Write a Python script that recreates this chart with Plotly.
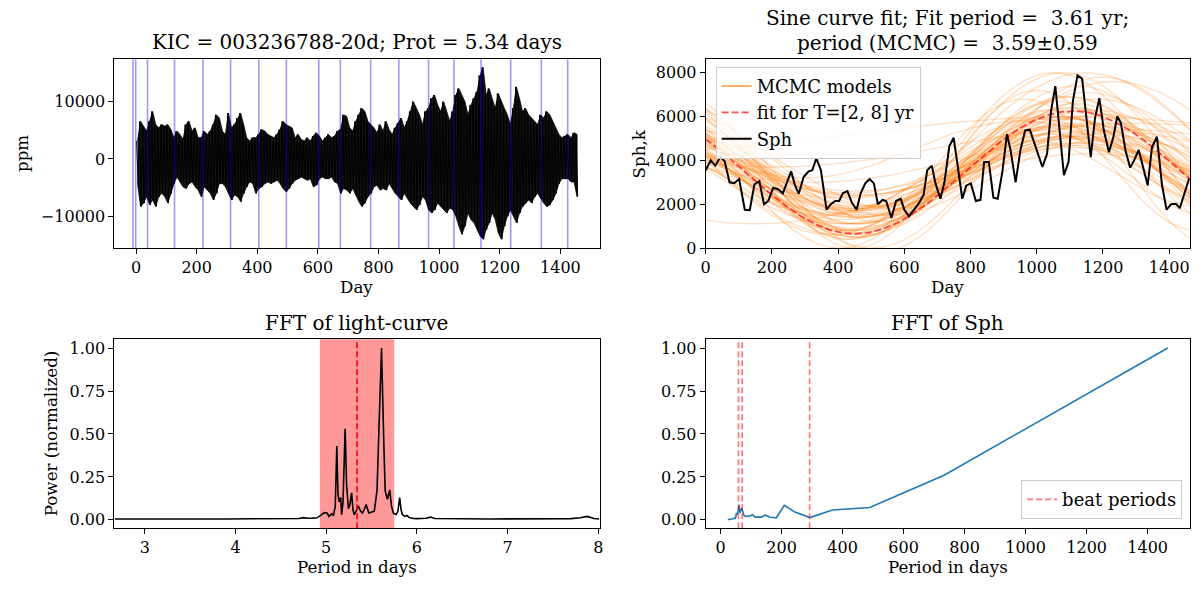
import numpy as np
import plotly.graph_objects as go

# ---------------- data ----------------
# Light curve envelope (10-day bins starting at day 0): upper / lower ppm
lc_bin_width = 10
lc_hi = [3140, 6570, 5700, 4860, 6570, 8290, 6000, 5430, 6000, 5710,
         6000, 5140, 3710, 4860, 4290, 3430, 6000, 6570, 4860, 5430,
         3710, 3710, 4860, 4290, 4860, 6000, 7700, 7140, 4860, 4290,
         8000, 5430, 6000, 7140, 8000, 6000, 3710, 3140, 3710, 3710,
         4290, 5140, 4860, 4290, 4000, 3710, 4290, 5140, 6570, 6000,
         5710, 5430, 3710, 4290, 3430, 3140, 3710, 3140, 4000, 4570,
         4000, 3140, 3710, 4290, 3710, 4000, 4860, 5140, 7700, 7430,
         5430, 4860, 6570, 7700, 8860, 8290, 6570, 6000, 5430, 4570,
         6000, 4860, 6570, 5140, 4290, 5430, 6290, 7140, 5430, 6570,
         8290, 10000, 8860, 7700, 6000, 8290, 8860, 10570, 11140, 9430,
         8290, 10000, 8290, 6570, 8290, 11140, 12290, 11140, 10000, 7700,
         9430, 10570, 11710, 14570, 16000, 11140, 12290, 10570, 8860, 11430,
         10000, 8860, 7700, 6000, 8860, 12570, 10570, 8290, 8860, 7700,
         7140, 6570, 6000, 7700, 7140, 8290, 7700, 6570, 5430, 4290,
         3710, 4000, 4290, 3710, 4570, 4290]
lc_lo = [-4290, -8290, -7700, -6570, -8000, -7140, -8290, -6570, -6000, -6570,
         -7700, -6000, -4290, -3140, -4000, -4860, -5140, -4290, -4000, -4860,
         -5430, -6570, -4860, -5430, -6000, -7140, -6000, -4290, -4290, -4860,
         -6000, -7140, -6290, -6570, -7430, -6000, -4860, -4000, -4290, -6000,
         -5140, -4860, -4290, -4000, -4290, -4000, -3710, -4290, -5140, -5710,
         -5140, -4290, -3710, -3430, -3140, -3430, -3710, -3430, -4860, -4570,
         -3430, -3140, -3430, -3430, -3140, -4000, -4290, -6000, -5140, -5430,
         -6000, -5140, -6290, -7430, -8290, -7700, -6570, -6000, -4860, -4570,
         -5430, -5140, -5430, -4290, -5140, -6000, -6570, -7140, -6000, -6860,
         -7700, -8290, -8860, -8000, -6570, -7140, -8860, -9430, -8860, -7700,
         -8290, -8860, -9430, -8570, -8860, -10000, -11710, -13140, -11710, -9430,
         -10570, -11140, -12290, -13430, -14000, -12290, -11140, -9430, -10570, -12860,
         -14000, -11710, -10000, -8860, -10000, -11140, -9430, -8290, -7700, -7140,
         -7700, -6570, -6000, -6860, -7700, -8290, -8000, -7140, -6000, -4290,
         -3430, -3430, -3430, -4000, -4000, -6570]
quarter_days = [-10, -1, 38, 127, 221, 312, 405, 496, 603, 674, 774, 867,
                965, 1049, 1138, 1236, 1337, 1424]

# Sph time series
sph_day = [0, 15, 29, 44, 57, 72, 86, 101, 118, 133, 147, 162, 176, 189, 204,
           219, 233, 247, 258, 270, 281, 296, 311, 322, 334, 348, 365, 378,
           391, 403, 414, 428, 442, 456, 468, 482, 495, 508, 520, 534, 545,
           561, 575, 589, 600, 614, 629, 644, 658, 669, 683, 694, 709, 721,
           736, 749, 761, 775, 787, 801, 816, 830, 841, 855, 869, 882, 896,
           910, 921, 936, 951, 965, 979, 993, 1004, 1017, 1031, 1043, 1056,
           1068, 1082, 1096, 1109, 1123, 1137, 1151, 1163, 1176, 1189, 1203,
           1218, 1231, 1243, 1254, 1268, 1282, 1294, 1308, 1321, 1335, 1348,
           1363, 1378, 1392, 1406, 1420, 1432, 1446, 1460]
sph_val = [3550, 4000, 3760, 4150, 3970, 3000, 2960, 3150, 1750, 1730, 2900,
           3050, 2000, 2150, 2750, 2680, 2500, 3100, 3500, 2850, 2480, 3250,
           3500, 3550, 4100, 3550, 1750, 2000, 2150, 2150, 2500, 2600, 2050,
           1750, 2500, 2950, 3150, 2950, 2000, 2200, 2150, 1370, 2150, 2250,
           1750, 1450, 1750, 2050, 2420, 3550, 3760, 2950, 2250, 3000, 4650,
           5030, 3760, 2250, 2850, 2950, 2150, 2200, 3930, 3930, 2300, 2250,
           3480, 5200, 4450, 3000, 4500, 5370, 5400, 4740, 4300, 3700, 4300,
           6240, 7390, 5570, 3330, 3930, 6690, 7880, 7730, 5790, 4150, 5940,
           6840, 5340, 4370, 5040, 6010, 5710, 4450, 3670, 4000, 4480, 3700,
           2850, 4600, 5080, 2900, 1750, 2000, 2020, 1820, 2500, 3160]

# Sine fit (T=[2, 8] yr): period (days), amplitude, offset, day of maximum
fit_period, fit_amp, fit_offset, fit_tmax = 1318.5, 2800, 3450, 1110

# MCMC sine models: period (days), amplitude, offset, day of maximum
mc_period = [1300, 1250, 1350, 1200, 1400, 1280, 1320, 1150, 1450, 1260,
             1220, 1380, 1500, 1100, 1300, 1330, 1180, 1420, 1270, 1240,
             1600, 1050, 1350, 1290, 1200, 1700, 1460, 1320, 1240, 1380,
             1150, 1550, 1280, 1400, 2200, 1000, 1310, 1260, 1480, 1210,
             1340, 1900, 1180, 1360, 1230, 1270, 1440, 1120, 1300, 2600,
             1250, 1400, 1100, 1550, 1200, 1350, 1050, 1650, 2000, 1300]
mc_amp = [1600, 1800, 1500, 2000, 1700, 2400, 2800, 1900, 2100, 1400,
          2600, 2200, 3000, 1700, 3200, 1200, 2300, 1800, 2000, 1600,
          2500, 2000, 2700, 1900, 3100, 1500, 1300, 2300, 2500, 1600,
          2800, 2200, 1100, 3300, 1000, 1500, 2100, 2900, 2600, 1800,
          2000, 1200, 1400, 3500, 2200, 1700, 2400, 2400, 2600, 800,
          3800, 3900, 3600, 3700, 3400, 4000, 3000, 3500, 1600, 1300]
mc_offset = [3400, 3500, 3300, 3600, 3400, 3500, 3600, 3300, 3500, 3700,
             3400, 3300, 3800, 3500, 3700, 3600, 3800, 3200, 3900, 3100,
             3600, 3400, 3300, 3700, 3600, 3800, 3900, 4000, 3200, 4100,
             3500, 3500, 3500, 3800, 4700, 3400, 3000, 4000, 3700, 3600,
             3500, 4200, 3300, 3900, 3700, 3200, 4000, 3600, 3400, 5200,
             4200, 3900, 3600, 4300, 3200, 4000, 3800, 4100, 2700, 4500]
mc_tmax = [1100, 1080, 1120, 1060, 1150, 1100, 1110, 1040, 1170, 1090,
           1070, 1130, 1180, 1030, 1100, 1120, 1050, 1160, 1090, 1080,
           1200, 1010, 1140, 1100, 1060, 1250, 1180, 1110, 1080, 1130,
           1040, 1190, 1100, 1150, 1300, 990, 1100, 1090, 1170, 1170,
           1030, 1280, 1120, 1120, 1000, 1180, 1100, 1080, 1060, 1100,
           1050, 1200, 1000, 1150, 1120, 1080, 960, 1230, 1150, 950]

# FFT of light curve
fft_lc_period = [2.67, 3.0, 3.3, 3.6, 3.9, 4.2, 4.4, 4.6, 4.65, 4.7,
                 4.75, 4.8, 4.85, 4.9, 4.95, 4.98, 5.01, 5.03, 5.06, 5.08,
                 5.10, 5.117, 5.13, 5.143, 5.16, 5.17, 5.185, 5.209, 5.225, 5.245,
                 5.262, 5.28, 5.295, 5.31, 5.33, 5.355, 5.38, 5.40, 5.42, 5.44,
                 5.47, 5.50, 5.53, 5.56, 5.58, 5.61, 5.635, 5.65, 5.675, 5.70,
                 5.72, 5.74, 5.77, 5.79, 5.81, 5.825, 5.84, 5.87, 5.89, 5.92,
                 5.96, 6.0, 6.1, 6.15, 6.2, 6.3, 6.5, 6.8, 7.1, 7.4,
                 7.7, 7.8, 7.88, 7.95, 8.01]
fft_lc_power = [0.005, 0.004, 0.005, 0.006, 0.005, 0.006, 0.007, 0.008, 0.012, 0.008,
                0.013, 0.009, 0.010, 0.012, 0.030, 0.042, 0.040, 0.020, 0.035, 0.025,
                0.08, 0.43, 0.15, 0.105, 0.13, 0.03, 0.10, 0.53, 0.20, 0.065,
                0.09, 0.157, 0.06, 0.03, 0.05, 0.08, 0.05, 0.04, 0.06, 0.09,
                0.04, 0.045, 0.05, 0.17, 0.55, 1.0, 0.45, 0.17, 0.12, 0.174,
                0.08, 0.04, 0.03, 0.05, 0.13, 0.06, 0.03, 0.02, 0.025, 0.012,
                0.008, 0.007, 0.009, 0.016, 0.008, 0.006, 0.006, 0.005, 0.006, 0.005,
                0.007, 0.012, 0.02, 0.008, 0.005]
prot_days = 5.34
prot_band = [4.93, 5.75]

# FFT of Sph
fft_sph_period = [1466, 733, 489, 367, 293, 244, 209, 183, 163, 147, 133, 122,
                  113, 105, 98, 92, 86, 81, 77, 73, 70, 67, 64, 61, 59, 56, 54,
                  52, 50, 49, 47, 46, 44, 43, 42, 40, 38, 36, 34, 32, 30, 28,
                  26, 24]
fft_sph_power = [1.0, 0.26, 0.072, 0.057, 0.013, 0.045, 0.085, 0.012, 0.015,
                 0.027, 0.016, 0.015, 0.016, 0.03, 0.022, 0.02, 0.022, 0.02,
                 0.025, 0.06, 0.065, 0.06, 0.04, 0.085, 0.05, 0.035, 0.03, 0.04,
                 0.015, 0.01, 0.012, 0.008, 0.01, 0.008, 0.006, 0.006, 0.004,
                 0.005, 0.003, 0.004, 0.003, 0.003, 0.002, 0.001]
beat_periods = [59, 71, 292]

# tick labels
tl_xticks = [0, 200, 400, 600, 800, 1000, 1200, 1400]
tl_yticks = [-10000, 0, 10000]
tl_ytext = ["\u221210000", "0", "10000"]
tr_yticks = [0, 2000, 4000, 6000, 8000]
bl_xticks = [3, 4, 5, 6, 7, 8]
pw_yticks = [0.0, 0.25, 0.5, 0.75, 1.0]
pw_ytext = ["0.00", "0.25", "0.50", "0.75", "1.00"]

# ---------------- figure ----------------
W, H = 1202, 595
FONT = "DejaVu Serif"


def px(x):
    return x / W


def py(y):
    return 1 - y / H


fig = go.Figure()

# light curve: filled envelope, plus a zig-zag between the same extremes for texture
centers = [i * lc_bin_width + lc_bin_width / 2 for i in range(len(lc_hi))]
fig.add_trace(go.Scatter(x=centers + centers[::-1], y=lc_hi + lc_lo[::-1], mode="lines",
                         fill="toself", fillcolor="rgba(0,0,0,0.93)",
                         line=dict(color="black", width=0.8),
                         xaxis="x", yaxis="y", showlegend=False, hoverinfo="skip"))
zx, zy = [], []
for i, (h, l) in enumerate(zip(lc_hi, lc_lo)):
    d0 = i * lc_bin_width
    zx += [d0 + 2, d0 + 7]
    zy += [h, l]
fig.add_trace(go.Scatter(x=zx, y=zy, mode="lines", line=dict(color="black", width=1),
                         xaxis="x", yaxis="y", showlegend=False, hoverinfo="skip"))

# MCMC models
tgrid = np.linspace(0, 1463, 300)
for P, A, C, T in zip(mc_period, mc_amp, mc_offset, mc_tmax):
    fig.add_trace(go.Scatter(x=tgrid, y=C + A * np.cos(2 * np.pi * (tgrid - T) / P),
                             mode="lines", line=dict(color="rgba(255,127,14,0.26)", width=1.3),
                             xaxis="x2", yaxis="y2", showlegend=False, hoverinfo="skip"))
fig.add_trace(go.Scatter(x=[None], y=[None], mode="lines", name="MCMC models",
                         line=dict(color="rgba(255,140,40,0.7)", width=2),
                         xaxis="x2", yaxis="y2", legend="legend"))
fig.add_trace(go.Scatter(x=tgrid,
                         y=fit_offset + fit_amp * np.cos(2 * np.pi * (tgrid - fit_tmax) / fit_period),
                         mode="lines", name="fit for T=[2, 8] yr",
                         line=dict(color="rgba(255,0,0,0.7)", width=1.8, dash="7px,3px"),
                         xaxis="x2", yaxis="y2", legend="legend"))
fig.add_trace(go.Scatter(x=sph_day, y=sph_val, mode="lines", name="Sph",
                         line=dict(color="black", width=2), xaxis="x2", yaxis="y2",
                         legend="legend"))

# FFT light curve
fig.add_trace(go.Scatter(x=fft_lc_period, y=fft_lc_power, mode="lines",
                         line=dict(color="black", width=1.6), xaxis="x3", yaxis="y3",
                         showlegend=False))

# FFT Sph
fig.add_trace(go.Scatter(x=fft_sph_period, y=fft_sph_power, mode="lines",
                         line=dict(color="#1f77b4", width=1.6), xaxis="x4", yaxis="y4",
                         showlegend=False))

pw_range = [-0.049, 1.0515]
bx, by = [], []
for b in beat_periods:
    bx += [b, b, None]
    by += [pw_range[0], pw_range[1], None]
fig.add_trace(go.Scatter(x=bx, y=by, mode="lines", name="beat periods",
                         line=dict(color="rgba(255,0,0,0.55)", width=1.6, dash="6px,3px"),
                         xaxis="x4", yaxis="y4", legend="legend2"))

shapes = []
for q in quarter_days:
    shapes.append(dict(type="line", xref="x", yref="y domain", x0=q, x1=q, y0=0, y1=1,
                       line=dict(color="rgba(0,0,255,0.4)", width=1.6), layer="above"))
shapes.append(dict(type="rect", xref="x3", yref="y3 domain", x0=prot_band[0], x1=prot_band[1],
                   y0=0, y1=1, fillcolor="rgba(255,0,0,0.4)", line=dict(width=0), layer="below"))
shapes.append(dict(type="line", xref="x3", yref="y3 domain", x0=prot_days, x1=prot_days,
                   y0=0, y1=1, line=dict(color="red", width=1.6, dash="6px,3px"), layer="above"))

col_l = [px(110.2), px(599)]
col_r = [px(706), px(1194)]
row_t = [py(252.3), py(60.3)]
row_b = [py(537.3), py(345)]

axis_common = dict(showline=True, linecolor="black", linewidth=1, mirror=True,
                   ticks="outside", ticklen=5, tickwidth=1, tickcolor="black",
                   showgrid=False, zeroline=False, tickfont=dict(family=FONT, size=16, color="black"))

fig.update_layout(
    width=W, height=H, margin=dict(l=0, r=0, t=0, b=0),
    paper_bgcolor="white", plot_bgcolor="white", shapes=shapes,
    xaxis=dict(domain=col_l, anchor="y", range=[-71.4, 1529], tickvals=tl_xticks, **axis_common),
    yaxis=dict(domain=row_t, anchor="x", range=[-15540, 17390], tickvals=tl_yticks,
               ticktext=tl_ytext, **axis_common),
    xaxis2=dict(domain=col_r, anchor="y2", range=[0, 1463], tickvals=tl_xticks, **axis_common),
    yaxis2=dict(domain=row_t, anchor="x2", range=[0, 8614], tickvals=tr_yticks, **axis_common),
    xaxis3=dict(domain=col_l, anchor="y3", range=[2.665, 8.013], tickvals=bl_xticks, **axis_common),
    yaxis3=dict(domain=row_b, anchor="x3", range=pw_range, tickvals=pw_yticks, ticktext=pw_ytext,
                **axis_common),
    xaxis4=dict(domain=col_r, anchor="y4", range=[-48.5, 1539], tickvals=tl_xticks, **axis_common),
    yaxis4=dict(domain=row_b, anchor="x4", range=pw_range, tickvals=pw_yticks, ticktext=pw_ytext,
                **axis_common),
    legend=dict(x=px(716), y=py(68), xanchor="left", yanchor="top",
                bgcolor="rgba(255,255,255,0.8)", bordercolor="#cccccc", borderwidth=1,
                font=dict(family=FONT, size=18, color="black")),
    legend2=dict(x=px(1186), y=py(528), xanchor="right", yanchor="bottom",
                 bgcolor="rgba(255,255,255,0.8)", bordercolor="#cccccc", borderwidth=1,
                 font=dict(family=FONT, size=18, color="black")),
)

ann = []


def text(x, y, s, size, angle=0):
    ann.append(dict(x=px(x), y=py(y), xref="paper", yref="paper", text=s, showarrow=False,
                    xanchor="center", yanchor="middle", textangle=angle,
                    font=dict(family=FONT, size=size, color="black")))


text(354.6, 43, "KIC = 003236788-20d; Prot = 5.34 days", 20)
text(950, 18, "Sine curve fit; Fit period =  3.61 yr;", 20)
text(950, 44, "period (MCMC) =  3.59\u00b10.59", 20)
text(354.6, 329, "FFT of light-curve", 20)
text(950, 329, "FFT of Sph", 20)
text(354.6, 292, "Day", 16.7)
text(950, 292, "Day", 16.7)
text(354.6, 577, "Period in days", 16.7)
text(950, 577, "Period in days", 16.7)
text(16.5, 156.3, "ppm", 16.7, -90)
text(638.5, 156.3, "Sph,k", 16.7, -90)
text(46, 441, "Power (normalized)", 16.7, -90)
fig.update_layout(annotations=ann)

fig.write_html("out.html", config={"displayModeBar": False},
               post_script="document.body.style.margin='0px';document.body.style.overflow='hidden';")
